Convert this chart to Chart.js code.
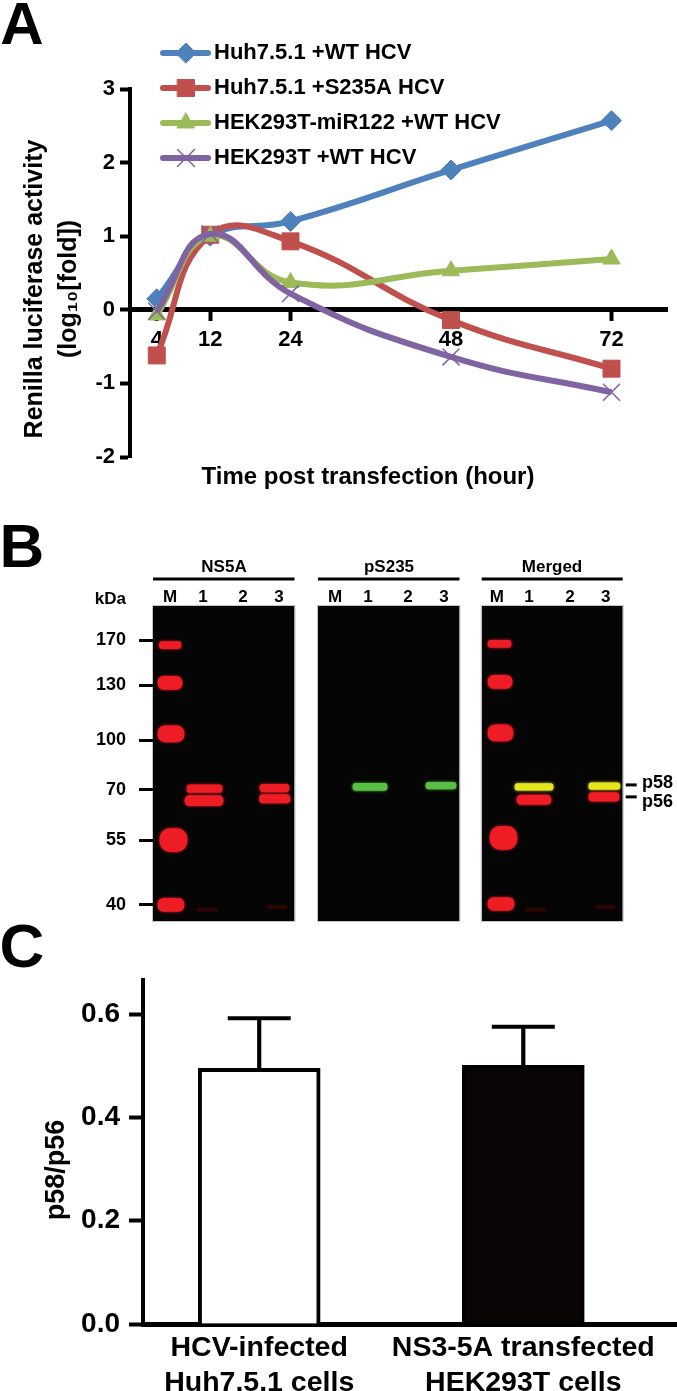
<!DOCTYPE html>
<html>
<head>
<meta charset="utf-8">
<script src="https://cdn.jsdelivr.net/npm/chart.js@4/dist/chart.umd.js"></script>
<style>
    html, body { margin: 0; padding: 0; background: #fff; }
    #page { position: relative; width: 677px; height: 1391px; overflow: hidden; filter: blur(0.4px); }
    canvas { position: absolute; }
</style>
</head>
<body>
<div id="page">
    <canvas id="lineChart" width="677" height="500" style="left:0;top:0"></canvas>
    <canvas id="blotNs5a" width="300" height="410" style="left:0;top:520px"></canvas>
    <canvas id="blotPs235" width="170" height="410" style="left:300px;top:520px"></canvas>
    <canvas id="blotMerged" width="207" height="410" style="left:470px;top:520px"></canvas>
    <canvas id="barChart" width="677" height="471" style="left:0;top:920px"></canvas>
</div>
<script>
// panel A
const hours = [4, 12, 24, 48, 72];
const huhWt = [0.15, 1.0, 1.2, 1.9, 2.57];
const huhS235a = [-0.62, 1.02, 0.93, -0.14, -0.8];
const hekMir122 = [-0.07, 1.0, 0.37, 0.53, 0.69];
const hekWt = [-0.02, 1.03, 0.22, -0.64, -1.12];
const seriesNames = ['Huh7.5.1 +WT HCV', 'Huh7.5.1 +S235A HCV', 'HEK293T-miR122 +WT HCV', 'HEK293T +WT HCV'];

// panel B, x in % of blot width, migration in % of blot height
const kdaLabels = ['170', '130', '100', '70', '55', '40'];
const kdaMigration = [10.8, 25.2, 42.7, 58.3, 74.4, 94.9];
const laneLabels = ['M', '1', '2', '3'];
const laneCenters = [12, 35.3, 63.6, 89];
const laneCentersMerged = [10.8, 33.5, 62.6, 88];
const formMigration = [56.8, 60.6]; // p58, p56

const ns5aFrom = [4.5, 3.5, 3.5, 4.9, 3.5, 24, 22.6, 75.6, 75.3, 31, 81];
const ns5aTo = [19.8, 20.5, 21.9, 24, 21.9, 48.8, 49.5, 96.1, 96.8, 46, 94.7];
const ns5aMigration = [12.4, 24.4, 40.6, 74.3, 94.9, 58, 61.8, 57.8, 61.2, 96.5, 95.6];

const ps235From = [24.7, 76.3];
const ps235To = [48.8, 97.5];
const ps235Migration = [57.4, 57];

const mergedFrom = [4.5, 4.5, 4.5, 5.9, 4.5, 25, 23.6, 76, 76, 31, 81];
const mergedTo = [20.8, 21.5, 22.2, 25, 22.9, 49.1, 50.6, 97.4, 98, 46, 94.7];
const mergedMigration = [12, 24.1, 40.3, 73.6, 94.6, 61.5, 57.4, 60.6, 57.2, 96.5, 95.6];

// panel C
const barPositions = [1, 2];
const barLabels = [['HCV-infected', 'Huh7.5.1 cells'], ['NS3-5A transfected', 'HEK293T cells']];
const barMeans = [0.495, 0.501];
const barUpper = [0.592, 0.5755];

const SANS = '"Liberation Sans", Arial, sans-serif';

function textPlugin(items) {
    return {
        id: 'textItems',
        afterDraw(chart) {
            const ctx = chart.ctx;
            items.forEach(item => {
                ctx.save();
                ctx.translate(item.x, item.y);
                ctx.rotate(item.rotate || 0);
                ctx.font = item.font;
                ctx.fillStyle = '#000';
                ctx.textAlign = item.align || 'center';
                ctx.textBaseline = 'middle';
                ctx.fillText(item.text, 0, 0);
                ctx.restore();
            });
        }
    };
}

function noEdgePadding(scale) {
    scale.paddingLeft = 0;
    scale.paddingRight = 0;
    scale.paddingTop = 0;
    scale.paddingBottom = 0;
}

function renderLineChart() {
    const colors = ['#4f81bd', '#c0504d', '#9bbb59', '#8064a2'];
    const styles = ['rectRot', 'rect', 'triangle', 'crossRot'];
    const radii = [10, 12, 10, 12];
    const values = [huhWt, huhS235a, hekMir122, hekWt];
    const legendRows = [53, 88, 123, 158];

    const legendPlugin = {
        id: 'lineLegend',
        afterDraw(chart) {
            const ctx = chart.ctx;
            seriesNames.forEach((name, i) => {
                const y = legendRows[i];
                ctx.save();
                ctx.strokeStyle = colors[i];
                ctx.lineWidth = 6;
                ctx.lineCap = 'round';
                ctx.beginPath();
                ctx.moveTo(163, y);
                ctx.lineTo(208, y);
                ctx.stroke();
                ctx.fillStyle = colors[i];
                ctx.lineWidth = i === 3 ? 1.5 : 1;
                Chart.helpers.drawPoint(ctx, { pointStyle: styles[i], rotation: 0, radius: radii[i], borderWidth: ctx.lineWidth }, 186, y);
                ctx.fillStyle = '#000';
                ctx.font = 'bold 22px ' + SANS;
                ctx.textAlign = 'left';
                ctx.textBaseline = 'middle';
                ctx.fillText(name, 214, y);
                ctx.restore();
            });
        }
    };

    new Chart(document.getElementById('lineChart'), {
        type: 'line',
        data: {
            datasets: values.map((series, i) => ({
                label: seriesNames[i],
                data: series.map((v, j) => ({ x: hours[j], y: v })),
                borderColor: colors[i],
                backgroundColor: colors[i],
                borderWidth: 6,
                tension: 0.45,
                pointStyle: styles[i],
                pointRadius: radii[i],
                pointBorderWidth: i === 3 ? 1.5 : 1,
                pointBorderColor: colors[i],
                order: 4 - i,
                clip: false
            }))
        },
        options: {
            responsive: false,
            animation: false,
            layout: { autoPadding: false, padding: { top: 89, bottom: 43, left: 0, right: 10 } },
            plugins: { legend: { display: false }, tooltip: { enabled: false } },
            scales: {
                x: {
                    type: 'linear',
                    position: { y: 0 },
                    min: 0,
                    max: 80.3,
                    afterBuildTicks: scale => { scale.ticks = hours.map(v => ({ value: v })); },
                    border: { color: '#000', width: 5 },
                    grid: { drawOnChartArea: false, tickLength: 9, tickWidth: 4, tickColor: '#000' },
                    ticks: { color: '#000', font: { family: SANS, weight: 'bold', size: 22 }, padding: 8, autoSkip: false, maxRotation: 0 }
                },
                y: {
                    min: -2,
                    max: 3,
                    afterFit: scale => { scale.width = 130; },
                    border: { color: '#000', width: 4 },
                    grid: { drawOnChartArea: false, tickLength: 10, tickWidth: 4, tickColor: '#000' },
                    ticks: { stepSize: 1, color: '#000', font: { family: SANS, weight: 'bold', size: 22 }, padding: 5, callback: v => String(v) }
                }
            }
        },
        plugins: [legendPlugin, textPlugin([
            { text: 'A', x: 22, y: 27, font: 'bold 60px ' + SANS },
            { text: 'Renilla luciferase activity', x: 35, y: 289, rotate: -Math.PI / 2, font: 'bold 25px ' + SANS },
            { text: '(log\u2081\u2080[fold])', x: 69, y: 289, rotate: -Math.PI / 2, font: 'bold 25px ' + SANS },
            { text: 'Time post transfection (hour)', x: 368, y: 477, font: 'bold 24px ' + SANS }
        ])]
    });
}

function renderBlot(id, config) {
    const blotPlugin = {
        id: 'blotFrame',
        beforeDraw(chart) {
            const { ctx, chartArea: a } = chart;
            ctx.save();
            ctx.fillStyle = '#050505';
            ctx.fillRect(a.left, a.top, a.right - a.left, a.bottom - a.top);
            ctx.strokeStyle = '#c4c4c4';
            ctx.lineWidth = 1;
            ctx.strokeRect(a.left - 0.5, a.top - 0.5, a.right - a.left + 1, a.bottom - a.top + 1);
            ctx.fillStyle = '#000';
            ctx.fillRect(a.left, 57.5, a.right - a.left, 3);
            (config.sideTicks || []).forEach(m => {
                ctx.fillRect(a.right + 3, chart.scales.y.getPixelForValue(m) - 1.5, 11, 3);
            });
            ctx.restore();
        },
        beforeDatasetDraw(chart, args) {
            const ctx = chart.ctx;
            ctx.save();
            ctx.shadowColor = chart.data.datasets[args.index].backgroundColor;
            ctx.shadowBlur = 3;
        },
        afterDatasetDraw(chart) {
            chart.ctx.restore();
        }
    };

    new Chart(document.getElementById(id), {
        type: 'bar',
        data: {
            datasets: config.migration.map((m, i) => ({
                data: [{ x: [config.from[i], config.to[i]], y: m }],
                backgroundColor: config.colors[i],
                barThickness: config.thick[i],
                borderRadius: config.thick[i] * 0.45,
                borderSkipped: false,
                grouped: false
            }))
        },
        options: {
            indexAxis: 'y',
            responsive: false,
            animation: false,
            layout: { padding: config.padding },
            plugins: { legend: { display: false }, tooltip: { enabled: false } },
            scales: {
                x: {
                    type: 'linear',
                    position: 'top',
                    min: 0,
                    max: 100,
                    afterBuildTicks: scale => { scale.ticks = config.lanes.map(v => ({ value: v })); },
                    afterFit: scale => { scale.height = 20; noEdgePadding(scale); },
                    border: { display: false },
                    grid: { display: false, drawTicks: false },
                    ticks: {
                        color: '#000',
                        padding: -2,
                        autoSkip: false,
                        maxRotation: 0,
                        font: { family: SANS, weight: 'bold', size: 17 },
                        callback: (v, i) => laneLabels[i]
                    }
                },
                y: {
                    type: 'linear',
                    display: config.showKda,
                    reverse: true,
                    offset: false,
                    min: 0,
                    max: 100,
                    afterFit: scale => { scale.width = config.showKda ? 153 : 0; noEdgePadding(scale); },
                    afterBuildTicks: scale => { scale.ticks = kdaMigration.map(v => ({ value: v })); },
                    border: { display: false },
                    grid: {
                        offset: false,
                        drawOnChartArea: false,
                        tickLength: 20,
                        tickWidth: 3,
                        tickColor: '#000',
                        tickBorderDash: [14, 6],
                        tickBorderDashOffset: 14
                    },
                    ticks: {
                        color: '#000',
                        padding: 7,
                        autoSkip: false,
                        font: { family: SANS, weight: 'bold', size: 18 },
                        callback: (v, i) => kdaLabels[i]
                    }
                }
            }
        },
        plugins: [blotPlugin, textPlugin(config.texts)]
    });
}

function renderBlots() {
    const red = '#ee1c25';
    const faint = '#2a0606';
    const green = '#58bf45';
    const yellow = '#e6e61e';
    const title = 'bold 17px ' + SANS;

    renderBlot('blotNs5a', {
        from: ns5aFrom,
        to: ns5aTo,
        migration: ns5aMigration,
        thick: [7, 13, 16, 23, 13, 7.5, 10, 7.5, 8.5, 3, 3],
        colors: [red, red, red, red, red, red, red, red, red, faint, faint],
        lanes: laneCenters,
        showKda: true,
        padding: { left: 0, right: 5.5, top: 66, bottom: 9 },
        texts: [
            { text: 'B', x: 22, y: 30, font: 'bold 62px ' + SANS },
            { text: 'NS5A', x: 224, y: 47, font: title },
            { text: 'kDa', x: 126, y: 79, align: 'right', font: 'bold 17px ' + SANS }
        ]
    });

    renderBlot('blotPs235', {
        from: ps235From,
        to: ps235To,
        migration: ps235Migration,
        thick: [7, 6.5],
        colors: [green, green],
        lanes: laneCenters,
        showKda: false,
        padding: { left: 18, right: 10.5, top: 66, bottom: 9 },
        texts: [{ text: 'pS235', x: 89, y: 47, font: title }]
    });

    renderBlot('blotMerged', {
        from: mergedFrom,
        to: mergedTo,
        migration: mergedMigration,
        thick: [7, 13, 16, 23, 13, 9.5, 6.5, 8.5, 6.5, 3, 3],
        colors: [red, red, red, red, red, red, yellow, red, yellow, faint, faint],
        lanes: laneCentersMerged,
        showKda: false,
        sideTicks: formMigration,
        padding: { left: 11.7, right: 54.3, top: 66, bottom: 9 },
        texts: [
            { text: 'Merged', x: 82, y: 47, font: title },
            { text: 'p58', x: 172, y: 263, align: 'left', font: 'bold 18px ' + SANS },
            { text: 'p56', x: 172, y: 282, align: 'left', font: 'bold 18px ' + SANS }
        ]
    });
}

function renderBarChart() {
    new Chart(document.getElementById('barChart'), {
        type: 'bar',
        data: {
            datasets: [
                {
                    data: barPositions.map((x, i) => ({ x, y: [barMeans[i], barUpper[i]] })),
                    backgroundColor: '#000',
                    barThickness: 3.5,
                    grouped: false
                },
                {
                    type: 'scatter',
                    data: barPositions.map((x, i) => ({ x, y: barUpper[i] })),
                    pointStyle: 'line',
                    pointRadius: 31.5,
                    pointBorderWidth: 4,
                    pointBorderColor: '#000',
                    showLine: false
                },
                {
                    data: barPositions.map((x, i) => ({ x, y: barMeans[i] })),
                    backgroundColor: ['#ffffff', '#0a0404'],
                    borderColor: '#000',
                    borderWidth: 4,
                    barThickness: 122,
                    grouped: false
                }
            ]
        },
        options: {
            responsive: false,
            animation: false,
            layout: { autoPadding: false, padding: { top: 60, left: 0, right: 0, bottom: 0 } },
            plugins: { legend: { display: false }, tooltip: { enabled: false } },
            scales: {
                x: {
                    type: 'linear',
                    offset: false,
                    min: 0.56,
                    max: 2.582,
                    afterBuildTicks: scale => { scale.ticks = barPositions.map(v => ({ value: v })); },
                    afterFit: scale => { scale.height = 67; noEdgePadding(scale); },
                    border: { color: '#000', width: 5 },
                    grid: { offset: false, drawOnChartArea: false, drawTicks: false },
                    ticks: {
                        color: '#000',
                        padding: 7,
                        autoSkip: false,
                        maxRotation: 0,
                        font: { family: SANS, weight: 'bold', size: 28.5, lineHeight: 1.21 },
                        callback: (v, i) => barLabels[i]
                    }
                },
                y: {
                    min: 0,
                    max: 0.666,
                    afterFit: scale => { scale.width = 143; noEdgePadding(scale); },
                    border: { color: '#000', width: 4 },
                    grid: { drawOnChartArea: false, tickLength: 14, tickWidth: 4, tickColor: '#000' },
                    ticks: {
                        stepSize: 0.2,
                        includeBounds: false,
                        color: '#000',
                        padding: 9,
                        font: { family: SANS, weight: 'bold', size: 28 },
                        callback: v => v.toFixed(1)
                    }
                }
            }
        },
        plugins: [textPlugin([
            { text: 'C', x: 22, y: 30, font: 'bold 62px ' + SANS },
            { text: 'p58/p56', x: 57, y: 250, rotate: -Math.PI / 2, font: 'bold 27px ' + SANS }
        ])]
    });
}

renderLineChart();
renderBlots();
renderBarChart();
</script>
</body>
</html>
